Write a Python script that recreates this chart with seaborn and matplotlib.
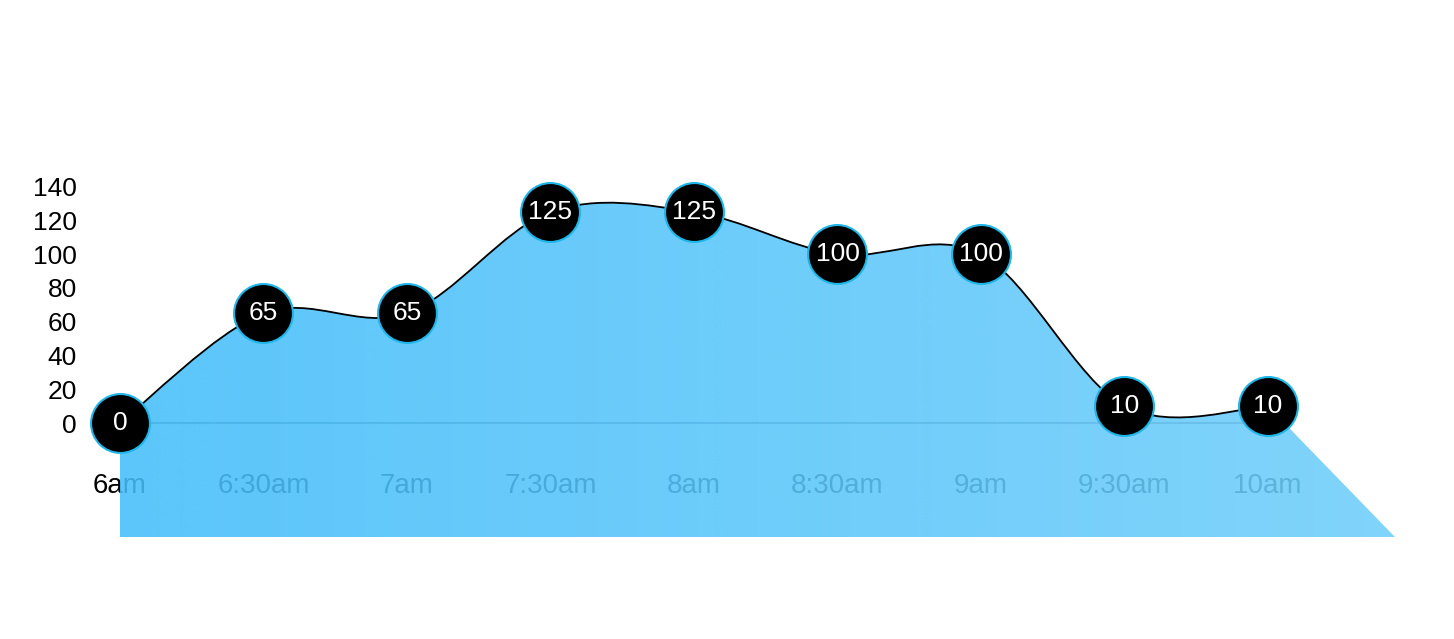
import numpy as np
import matplotlib
matplotlib.use('Agg')
import matplotlib.pyplot as plt
from matplotlib.path import Path
from matplotlib.patches import PathPatch
import seaborn as sns

# data
times = ['6am', '6:30am', '7am', '7:30am', '8am', '8:30am', '9am', '9:30am', '10am']
counts = [0, 65, 65, 125, 125, 100, 100, 10, 10]
y_ticks = [0, 20, 40, 60, 80, 100, 120, 140]

sns.set_theme(style='white')
plt.rcParams['font.family'] = ['Liberation Sans', 'DejaVu Sans']

fig = plt.figure(figsize=(14.54, 6.39), dpi=100)
ax = fig.add_axes([0.0825, 0.1596, 0.8769, 0.6056])
ax.set_xlim(0, 8.885)
ax.set_ylim(-67.5, 161.7)
x0, x1 = ax.get_xlim()
y0, y1 = ax.get_ylim()

xs = np.arange(len(counts))
pts = np.column_stack([xs, counts]).astype(float)

# smooth curve: catmull-rom segments as cubic bezier path
ext = np.vstack([pts[0], pts, pts[-1]])
verts = [tuple(pts[0])]
codes = [Path.MOVETO]
for i in range(len(pts) - 1):
    p0, p1, p2, p3 = ext[i], ext[i + 1], ext[i + 2], ext[i + 3]
    c1 = p1 + (p2 - p0) / 6
    c2 = p2 - (p3 - p1) / 6
    verts += [tuple(c1), tuple(c2), tuple(p2)]
    codes += [Path.CURVE4] * 3

curve = Path(verts, codes)
area = Path(verts + [(x1, y0), (xs[0], y0), tuple(pts[0])],
            codes + [Path.LINETO, Path.LINETO, Path.CLOSEPOLY])

# gradient fill, drawn over the x tick labels
clip = PathPatch(area, fc='none', ec='none')
ax.add_patch(clip)
left_c = np.array([69, 190, 250]) / 255
right_c = np.array([111, 206, 250]) / 255
t = np.linspace(0, 1, 256)[None, :, None]
img = np.repeat(left_c * (1 - t) + right_c * t, 2, axis=0)
im = ax.imshow(img, extent=[x0, x1, y0, y1], aspect='auto', alpha=0.88,
               interpolation='bilinear', zorder=2)
im.set_clip_path(clip)

# baseline at zero
ax.plot([xs[0], xs[-1]], [0, 0], color='#7a7a7a', lw=1.5, zorder=1.5)

ax.add_patch(PathPatch(curve, fc='none', ec='black', lw=1.3, zorder=3))

sns.scatterplot(x=xs, y=counts, s=1800, color='black', edgecolor='#1fb6e8',
                linewidth=1.5, zorder=4, ax=ax, legend=False, clip_on=False)
for x, v in zip(xs, counts):
    ax.text(x, v, str(v), color='white', ha='center', va='center',
            fontsize=19, zorder=5, clip_on=False)

ax.set_xlim(x0, x1)
ax.set_ylim(y0, y1)
ax.set_xticks(xs, times)
ax.set_yticks(y_ticks)
ax.set_axisbelow(True)
ax.tick_params(axis='x', length=0, pad=-46, labelsize=20, labelcolor='black')
ax.tick_params(axis='y', length=0, pad=31, labelsize=19, labelcolor='black')
ax.grid(False)
for s in ax.spines.values():
    s.set_visible(False)
ax.set_facecolor('none')

fig.savefig('out.png', dpi=100)
